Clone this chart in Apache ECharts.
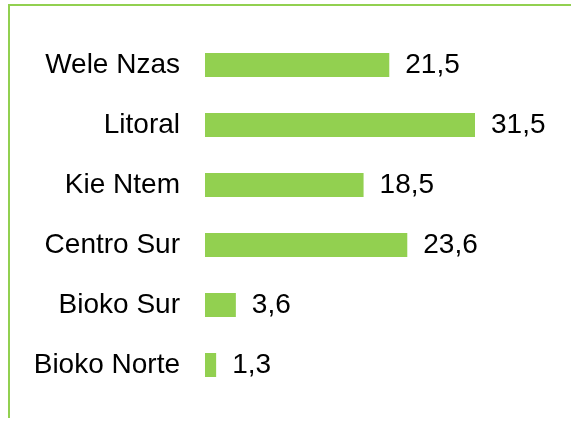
<!DOCTYPE html>
<html>
<head>
<meta charset="utf-8">
<script src="https://cdn.jsdelivr.net/npm/echarts@6/dist/echarts.min.js"></script>
<style>html,body{margin:0;padding:0;background:#fff;}#c{width:571px;height:421px;}</style>
</head>
<body>
<div id="c"></div>
<script>
const categories = ['Wele Nzas', 'Litoral', 'Kie Ntem', 'Centro Sur', 'Bioko Sur', 'Bioko Norte'];
const values = [21.5, 31.5, 18.5, 23.6, 3.6, 1.3];

const chart = echarts.init(document.getElementById('c'), null, {renderer: 'canvas'});
const font = '"Liberation Sans", Arial, sans-serif';
chart.setOption({
  animation: false,
  backgroundColor: '#ffffff',
  graphic: [
    {type: 'line', shape: {x1: 9, y1: 5, x2: 571, y2: 5}, style: {stroke: '#92D050', lineWidth: 2}},
    {type: 'line', shape: {x1: 9, y1: 4, x2: 9, y2: 418}, style: {stroke: '#92D050', lineWidth: 2}}
  ],
  grid: {left: 205, top: 35, width: 300, height: 360, containLabel: false},
  xAxis: {type: 'value', min: 0, max: 35, show: false},
  yAxis: {
    type: 'category',
    data: categories,
    inverse: true,
    axisLine: {show: false},
    axisTick: {show: false},
    axisLabel: {color: '#000', fontSize: 28, fontFamily: font, margin: 25}
  },
  series: [{
    type: 'bar',
    data: values,
    barWidth: 24,
    itemStyle: {color: '#92D050'},
    label: {
      show: true,
      position: 'right',
      distance: 16,
      color: '#000',
      fontSize: 28,
      fontFamily: font,
      formatter: p => String(p.value).replace('.', ',')
    }
  }]
});
</script>
</body>
</html>
